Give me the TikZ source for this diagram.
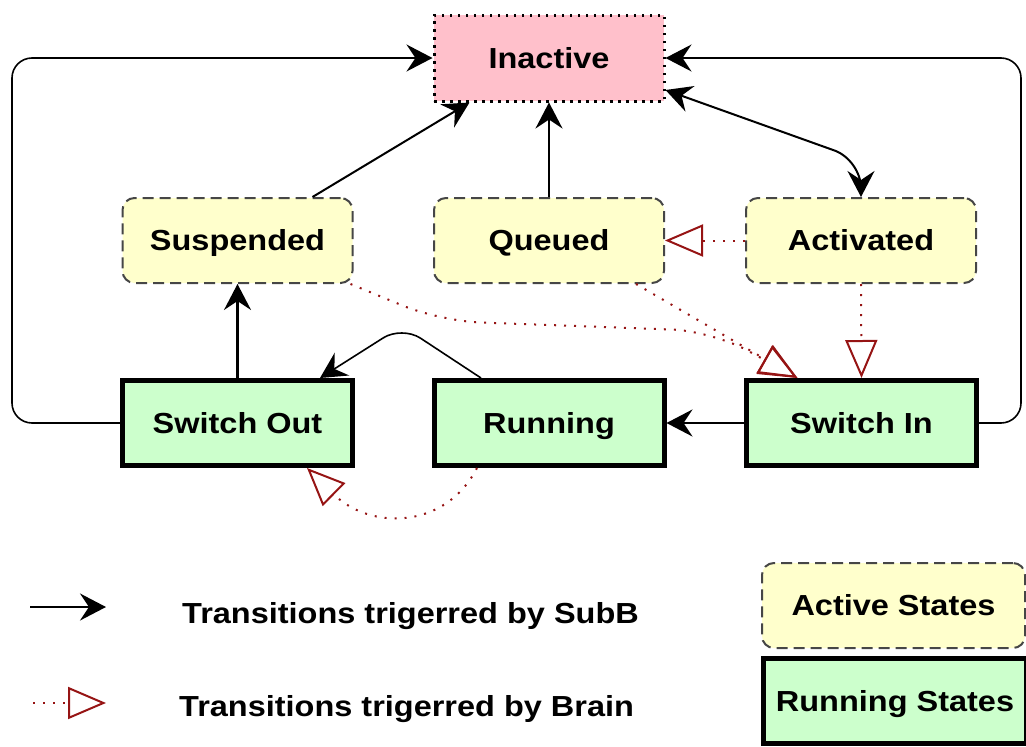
\documentclass[tikz,border=0pt]{standalone}
\usepackage{fontspec}
\setmainfont{Liberation Sans}[FakeStretch=1.12]
\usetikzlibrary{arrows.meta,calc}
\definecolor{inactfill}{RGB}{255,192,203}
\definecolor{actfill}{RGB}{255,255,204}
\definecolor{runfill}{RGB}{204,255,204}
\definecolor{brn}{RGB}{150,20,20}
\definecolor{dashgray}{RGB}{70,70,70}
\begin{document}
\begin{tikzpicture}[x=1pt,y=-1pt,
  every node/.style={font=\fontsize{29}{34}\selectfont\bfseries, inner sep=0pt, text height=20.5pt, text depth=0pt},
  inactbox/.style={draw=black, fill=inactfill, line width=3pt, dash pattern=on 2.5pt off 5.5pt, minimum width=230pt, minimum height=86pt},
  actbox/.style={draw=dashgray, fill=actfill, line width=2pt, dash pattern=on 11pt off 6pt, rounded corners=12pt, minimum width=230pt, minimum height=85pt},
  runbox/.style={draw=black, fill=runfill, line width=5pt, minimum width=230pt, minimum height=85pt},
  tip/.style={Stealth[length=26pt,width=27pt,inset=9pt]},
  sub/.style={draw=black, line width=2pt, -{Stealth[length=26pt,width=27pt,inset=9pt]}},
  subboth/.style={draw=black, line width=2pt, {Stealth[length=26pt,width=27pt,inset=9pt]}-{Stealth[length=26pt,width=27pt,inset=9pt]}},
  brain/.style={draw=brn, line width=2pt, dash pattern=on 2pt off 8pt, -{Triangle[open, length=38pt, width=32pt, line width=2pt]}},
  legtext/.style={anchor=west}
]
\useasboundingbox (0,0) rectangle (1026,747);

% states
\node[inactbox] (inactive) at (549,58) {Inactive};
\node[actbox] (suspended) at (237.5,240.5) {Suspended};
\node[actbox] (queued) at (549,240.5) {Queued};
\node[actbox] (activated) at (861,240.5) {Activated};
\node[runbox] (swout) at (237.5,423) {Switch Out};
\node[runbox] (running) at (549,423) {Running};
\node[runbox] (swin) at (861.5,423) {Switch In};

% legend boxes
\node[actbox, minimum width=263pt] (legact) at (893.5,605.5) {Active States};
\node[runbox, minimum width=263pt] (legrun) at (895,701) {Running States};

% loops
\coordinate (L) at (12,423);
\coordinate (R) at (1021,423);
\draw[sub, line width=1.6pt, rounded corners=20pt] (swout.west) -- (L) |- (inactive.west);
\draw[sub, line width=1.6pt, rounded corners=20pt] (swin.east) -- (R) |- (inactive.east);

% SubB transitions
\draw[sub] ($(suspended.north)+(75,0)$) -- ($(inactive.south west)+(37,0)$);
\draw[sub, line width=2.5pt] (queued.north) -- (inactive.south);
\coordinate (K) at (861,160);
\draw[subboth, rounded corners=28pt] ($(inactive.east)+(0,32)$) -- (K) -- (activated.north);
\draw[sub, line width=2.5pt] (swout.north) -- (suspended.south);
\draw[sub, line width=2.5pt] (swin.west) -- (running.east);
\coordinate (P) at (402,326);
\draw[sub, line width=1.6pt, rounded corners=22pt] ($(running.north)+(-68,0)$) -- (P) -- ($(swout.north east)+(-35,0)$);

% Brain transitions
\draw[brain] (activated.west) -- (queued.east);
\draw[brain] (activated.south) -- (swin.north);
\coordinate (Sa) at (440,321);
\coordinate (Sb) at (712,331);
\draw[brain, rounded corners=40pt] ($(suspended.south east)+(-3,0)$) -- (Sa) -- (Sb) -- ($(swin.north)+(-64,0)$);
\draw[brain] ($(queued.south east)+(-29,0)$) -- ($(swin.north)+(-64,0)$);
\draw[brain] ($(running.south)+(-72,0)$) .. controls (445,530) and (370,530) .. ($(swout.south east)+(-48,0)$);

% legend arrows
\coordinate (l1a) at (30,607);
\coordinate (l1b) at (106,607);
\coordinate (l2a) at (33,703);
\coordinate (l2b) at (106,703);
\draw[sub, line width=2.5pt] (l1a) -- (l1b);
\draw[brain] (l2a) -- (l2b);
\node[legtext] (t1) at (182,613) {Transitions trigerred by SubB};
\node[legtext] (t2) at (179,706) {Transitions trigerred by Brain};
\end{tikzpicture}
\end{document}
